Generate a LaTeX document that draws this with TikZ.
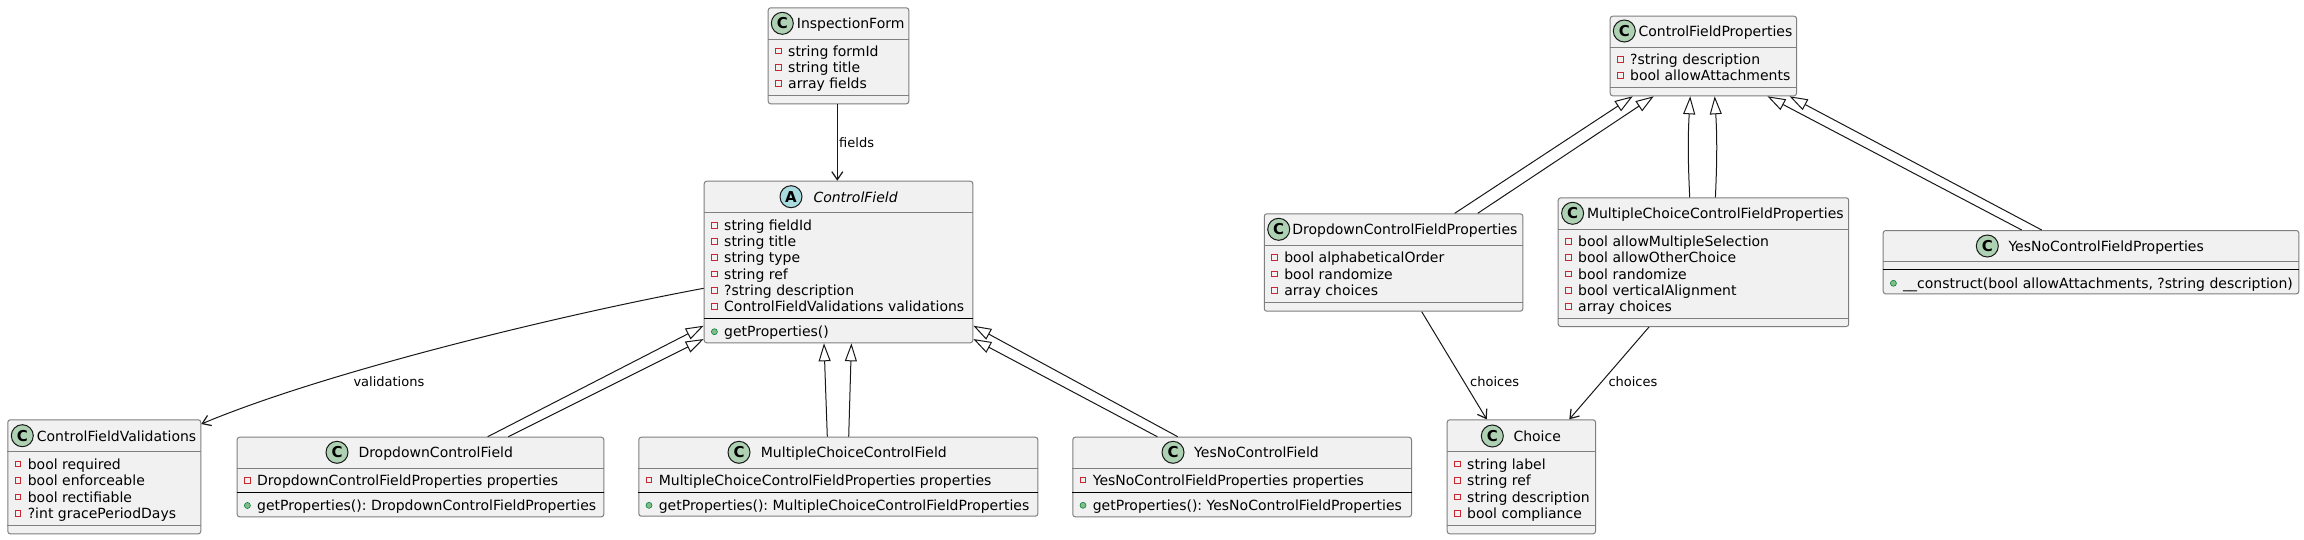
\documentclass[tikz,border=0pt]{standalone}
\usepackage{fontspec}
\setmainfont{DejaVu Sans}
\usetikzlibrary{arrows.meta,calc}
\frenchspacing

\definecolor{boxfill}{HTML}{F1F1F1}
\definecolor{boxline}{HTML}{7F7F7F}
\definecolor{edgecol}{HTML}{181818}
\definecolor{spotCcol}{HTML}{ADD1B2}
\definecolor{spotAcol}{HTML}{A9DCDF}
\definecolor{privred}{HTML}{C82930}
\definecolor{pubfill}{HTML}{84BE84}
\definecolor{publine}{HTML}{038048}

\tikzset{
  clsbox/.style={draw=boxline, line width=1pt, fill=boxfill, rounded corners=2.5pt, inner sep=0pt, anchor=north west},
  sepgray/.style={draw=boxline, line width=1pt},
  sepblack/.style={draw=black, line width=1pt},
  txt/.style={inner sep=0pt, anchor=base west, font=\fontsize{14pt}{16pt}\selectfont\frenchspacing},
  lbl/.style={inner sep=0pt, anchor=base west, font=\fontsize{13pt}{15pt}\selectfont},
  spotc/.style={circle, draw=edgecol, line width=1pt, fill=spotCcol, minimum size=22pt, inner sep=0pt, font=\fontsize{15pt}{15pt}\selectfont\bfseries},
  spota/.style={spotc, fill=spotAcol},
  privicon/.style={rectangle, draw=privred, line width=1pt, minimum size=5.5pt, inner sep=0pt},
  pubicon/.style={circle, draw=publine, fill=pubfill, line width=0.6pt, minimum size=6pt, inner sep=0pt},
  assoc/.style={draw=edgecol, line width=1pt, -{Straight Barb[length=8pt,width=11pt,line width=1.2pt]}},
  inh/.style={draw=edgecol, line width=1pt, -{Triangle[open,length=18pt,width=12pt,fill=white]}},
}

% name, left, top, right, bottom
\newcommand{\umlBox}[5]{\node[clsbox, minimum width={#4pt-#2pt}, minimum height={#5pt-#3pt}] (#1) at (#2,#3) {};}
% style, box name, y
\newcommand{\umlSep}[3]{\draw[#1] (#2.west |- 0,#3) -- (#2.east |- 0,#3);}
% name, left, ycenter, text
\newcommand{\umlPriv}[4]{\node[privicon] (#1i) at ({#2+10.7},#3) {};\node[txt] (#1) at ({#2+20.3},{#3+5.2}) {#4};}
\newcommand{\umlPub}[4]{\node[pubicon] (#1i) at ({#2+10.7},#3) {};\node[txt] (#1) at ({#2+20.3},{#3+5.2}) {#4};}
% name, spot style, letter, spot x, y, name x, text
\newcommand{\umlHead}[7]{\node[#2] (#1s) at (#4,#5) {#3};\node[txt] (#1n) at (#6,{#5+5.3}) {#7};}

\begin{document}
\begin{tikzpicture}[x=1pt,y=-1pt]
\fill[white] (0,0) rectangle (2304,539);
\useasboundingbox (0,0) rectangle (2304,539);

% ---------------- InspectionForm
\umlBox{if}{767.7}{7.3}{908.3}{103.3}
\umlSep{sepgray}{if}{39.3}
\umlHead{if}{spotc}{C}{782.3}{23.3}{796.7}{InspectionForm}
\umlPriv{ifa1}{767.7}{51}{string formId}
\umlPriv{ifa2}{767.7}{67.3}{string title}
\umlPriv{ifa3}{767.7}{83.7}{array fields}
\umlSep{sepgray}{if}{95.7}

% ---------------- ControlField
\umlBox{cf}{703.7}{180.7}{972.3}{342.3}
\umlSep{sepgray}{cf}{212}
\umlHead{cf}{spota}{A}{791}{196.7}{813.3}{\itshape ControlField}
\umlPriv{cfa1}{703.7}{225.3}{string fieldId}
\umlPriv{cfa2}{703.7}{241.3}{string title}
\umlPriv{cfa3}{703.7}{257.5}{string type}
\umlPriv{cfa4}{703.7}{274}{string ref}
\umlPriv{cfa5}{703.7}{290.3}{?string description}
\umlPriv{cfa6}{703.7}{306.3}{ControlFieldValidations validations}
\umlSep{sepblack}{cf}{318.3}
\umlPub{cfm1}{703.7}{331.7}{getProperties()}

% ---------------- ControlFieldValidations
\umlBox{cfv}{7.3}{419.3}{200.3}{533.3}
\umlSep{sepgray}{cfv}{451.7}
\umlHead{cfv}{spotc}{C}{22.3}{435.7}{36.7}{ControlFieldValidations}
\umlPriv{cfva1}{7.3}{464}{bool required}
\umlPriv{cfva2}{7.3}{480.5}{bool enforceable}
\umlPriv{cfva3}{7.3}{497}{bool rectifiable}
\umlPriv{cfva4}{7.3}{513.3}{?int gracePeriodDays}
\umlSep{sepgray}{cfv}{525.7}

% ---------------- DropdownControlField
\umlBox{dcf}{236.7}{436.7}{603.3}{516.3}
\umlSep{sepgray}{dcf}{468.7}
\umlHead{dcf}{spotc}{C}{337}{452.3}{358.3}{DropdownControlField}
\umlPriv{dcfa1}{236.7}{480.3}{DropdownControlFieldProperties properties}
\umlSep{sepblack}{dcf}{492.3}
\umlPub{dcfm1}{236.7}{505.5}{getProperties(): DropdownControlFieldProperties}

% ---------------- MultipleChoiceControlField
\umlBox{mccf}{638.3}{436.7}{1037.3}{515.7}
\umlSep{sepgray}{mccf}{468.5}
\umlHead{mccf}{spotc}{C}{739}{452.3}{760.7}{MultipleChoiceControlField}
\umlPriv{mccfa1}{638.3}{480.2}{MultipleChoiceControlFieldProperties properties}
\umlSep{sepblack}{mccf}{492.5}
\umlPub{mccfm1}{638.3}{505.3}{getProperties(): MultipleChoiceControlFieldProperties}

% ---------------- YesNoControlField
\umlBox{yncf}{1072.3}{436.7}{1411}{516.3}
\umlSep{sepgray}{yncf}{468.7}
\umlHead{yncf}{spotc}{C}{1173}{452.3}{1194}{YesNoControlField}
\umlPriv{yncfa1}{1072.3}{480.2}{YesNoControlFieldProperties properties}
\umlSep{sepblack}{yncf}{492.3}
\umlPub{yncfm1}{1072.3}{505.3}{getProperties(): YesNoControlFieldProperties}

% ---------------- ControlFieldProperties
\umlBox{cfp}{1609.7}{15.7}{1796}{95.3}
\umlSep{sepgray}{cfp}{47.3}
\umlHead{cfp}{spotc}{C}{1624.3}{31}{1638.4}{ControlFieldProperties}
\umlPriv{cfpa1}{1609.7}{59.3}{?string description}
\umlPriv{cfpa2}{1609.7}{75.5}{bool allowAttachments}
\umlSep{sepgray}{cfp}{87.3}

% ---------------- DropdownControlFieldProperties
\umlBox{dcfp}{1263.8}{213.3}{1522.3}{310.7}
\umlSep{sepgray}{dcfp}{245.7}
\umlHead{dcfp}{spotc}{C}{1278.7}{229.3}{1292.1}{DropdownControlFieldProperties}
\umlPriv{dcfpa1}{1263.8}{257.5}{bool alphabeticalOrder}
\umlPriv{dcfpa2}{1263.8}{274}{bool randomize}
\umlPriv{dcfpa3}{1263.8}{290.3}{array choices}
\umlSep{sepgray}{dcfp}{302.3}

% ---------------- MultipleChoiceControlFieldProperties
\umlBox{mccfp}{1557.7}{197.3}{1848.2}{326}
\umlSep{sepgray}{mccfp}{229.3}
\umlHead{mccfp}{spotc}{C}{1572.6}{213.3}{1586.8}{MultipleChoiceControlFieldProperties}
\umlPriv{mccfpa1}{1557.7}{241.3}{bool allowMultipleSelection}
\umlPriv{mccfpa2}{1557.7}{257.5}{bool allowOtherChoice}
\umlPriv{mccfpa3}{1557.7}{274}{bool randomize}
\umlPriv{mccfpa4}{1557.7}{290.3}{bool verticalAlignment}
\umlPriv{mccfpa5}{1557.7}{306.3}{array choices}
\umlSep{sepgray}{mccfp}{318.3}

% ---------------- YesNoControlFieldProperties
\umlBox{yncfp}{1882.7}{230}{2298.3}{293.3}
\umlSep{sepgray}{yncfp}{261.7}
\umlHead{yncfp}{spotc}{C}{1987.3}{246}{2008.3}{YesNoControlFieldProperties}
\umlSep{sepblack}{yncfp}{269.7}
\umlPub{yncfpm1}{1882.7}{283.3}{\_\_construct(bool allowAttachments, ?string description)}

% ---------------- Choice
\umlBox{ch}{1446.7}{419.3}{1595}{533.3}
\umlSep{sepgray}{ch}{451.7}
\umlHead{ch}{spotc}{C}{1492.3}{436}{1513.3}{Choice}
\umlPriv{cha1}{1446.7}{464}{string label}
\umlPriv{cha2}{1446.7}{480.5}{string ref}
\umlPriv{cha3}{1446.7}{497}{string description}
\umlPriv{cha4}{1446.7}{513.3}{bool compliance}
\umlSep{sepgray}{ch}{525.3}

% ================= connectors
% associations
\draw[assoc] ([xshift=69.6pt]if.south west) -- ([xshift=133.6pt]cf.north west);
\node[lbl] (lfields) at (839,147) {fields};

\draw[assoc] ([yshift=-107.6pt]cf.north west) .. controls (560,315) and (325,372) .. ([yshift=-4.7pt]cfv.north east);
\node[lbl] (lvalid) at (353.3,386.5) {validations};

\draw[assoc] ([xshift=157.9pt]dcfp.south west) -- ([xshift=40pt]ch.north west);
\node[lbl] (lch1) at (1470,386.5) {choices};
\draw[assoc] ([xshift=91.3pt]mccfp.south west) -- ([xshift=122.6pt]ch.north west);
\node[lbl] (lch2) at (1608.3,386.5) {choices};

% inheritance to ControlField
\draw[inh] ([xshift=251pt]dcf.north west) -- ([yshift=-145pt]cf.north west);
\draw[inh] ([xshift=271.6pt]dcf.north west) -- ([yshift=-158.3pt]cf.north west);
\draw[inh] ([xshift=189pt]mccf.north west) -- ([xshift=120.3pt]cf.south west);
\draw[inh] ([xshift=210.4pt]mccf.north west) -- ([xshift=147.7pt]cf.south west);
\draw[inh] ([xshift=85pt]yncf.north west) -- ([yshift=-158.3pt]cf.north east);
\draw[inh] ([xshift=105.4pt]yncf.north west) -- ([yshift=-145pt]cf.north east);

% inheritance to ControlFieldProperties
\draw[inh] ([xshift=190.9pt]dcfp.north west) -- ([xshift=23pt]cfp.south west);
\draw[inh] ([xshift=213.9pt]dcfp.north west) -- ([xshift=44pt]cfp.south west);
\draw[inh] ([xshift=132pt]mccfp.north west) to[bend left=3] ([xshift=80.5pt]cfp.south west);
\draw[inh] ([xshift=157.7pt]mccfp.north west) to[bend right=3] ([xshift=105pt]cfp.south west);
\draw[inh] ([xshift=139pt]yncfp.north west) -- ([xshift=157.7pt]cfp.south west);
\draw[inh] ([xshift=159pt]yncfp.north west) -- ([xshift=179.9pt]cfp.south west);
\end{tikzpicture}
\end{document}
